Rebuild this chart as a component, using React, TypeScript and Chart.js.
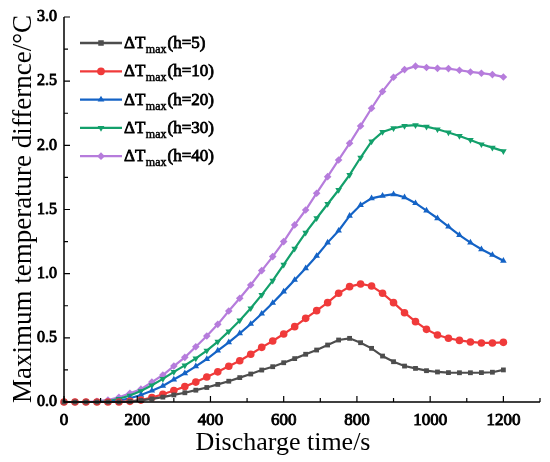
import { useEffect, useRef } from 'react';
import { Chart, ChartConfiguration, Plugin, registerables } from 'chart.js';
import { drawPoint } from 'chart.js/helpers';

const times = [
  0, 30, 60, 90, 120, 150, 180, 210, 240, 270, 300, 330, 360, 390, 420, 450, 480, 510, 540, 570,
  600, 630, 660, 690, 720, 750, 780, 810, 840, 870, 900, 930, 960, 990, 1020, 1050, 1080, 1110,
  1140, 1170, 1200,
];

const h5 = [
  0, 0, 0, 0, 0, 0, 0.004, 0.012, 0.024, 0.038, 0.055, 0.072, 0.092, 0.113, 0.137, 0.162, 0.19,
  0.218, 0.249, 0.275, 0.306, 0.338, 0.372, 0.405, 0.444, 0.483, 0.496, 0.462, 0.418, 0.358,
  0.314, 0.28, 0.262, 0.244, 0.234, 0.229, 0.228, 0.228, 0.229, 0.232, 0.25,
];

const h10 = [
  0, 0, 0, 0, 0, 0, 0.005, 0.015, 0.035, 0.06, 0.09, 0.12, 0.155, 0.195, 0.235, 0.278, 0.322,
  0.372, 0.426, 0.475, 0.53, 0.587, 0.652, 0.712, 0.774, 0.847, 0.899, 0.92, 0.904, 0.847, 0.774,
  0.696, 0.626, 0.566, 0.522, 0.497, 0.48, 0.468, 0.46, 0.46, 0.465,
];

const h20 = [
  0, 0, 0, 0, 0, 0.01, 0.029, 0.055, 0.088, 0.125, 0.175, 0.224, 0.278, 0.335, 0.4, 0.465, 0.535,
  0.608, 0.688, 0.772, 0.86, 0.951, 1.042, 1.138, 1.242, 1.335, 1.45, 1.535, 1.587, 1.606, 1.619,
  1.595, 1.549, 1.491, 1.432, 1.366, 1.3, 1.242, 1.19, 1.146, 1.1,
];

const h30 = [
  0, 0, 0, 0, 0.005, 0.025, 0.05, 0.085, 0.13, 0.18, 0.235, 0.285, 0.34, 0.4, 0.47, 0.55, 0.635,
  0.73, 0.835, 0.945, 1.07, 1.195, 1.32, 1.432, 1.543, 1.652, 1.77, 1.905, 2.03, 2.105, 2.133,
  2.151, 2.157, 2.146, 2.125, 2.1, 2.073, 2.042, 2.008, 1.982, 1.955,
];

const h40 = [
  0, 0, 0, 0.005, 0.016, 0.037, 0.068, 0.1, 0.155, 0.21, 0.28, 0.348, 0.43, 0.514, 0.605, 0.709,
  0.808, 0.912, 1.024, 1.133, 1.25, 1.38, 1.496, 1.627, 1.756, 1.886, 2.016, 2.151, 2.289, 2.42,
  2.531, 2.59, 2.617, 2.607, 2.6, 2.598, 2.585, 2.572, 2.562, 2.551, 2.533,
];

const heights = ['5', '10', '20', '30', '40'];
const colors = ['#4d4d4d', '#f03a3a', '#1463c6', '#13a06b', '#b67cdc'];
const styles = ['rect', 'circle', 'triangle', 'triangle', 'rectRot'];
const rotations = [0, 0, 0, 180, 0];

const serif = "'Liberation Serif', 'Times New Roman', serif";

// bold Times is drawn as regular serif with a thin stroke on top
function boldText(ctx: CanvasRenderingContext2D, s: string, x: number, y: number) {
  ctx.fillText(s, x, y);
  ctx.strokeText(s, x, y);
}

const axesPlugin: Plugin<'line'> = {
  id: 'originAxes',
  afterDraw(chart) {
    const { ctx, chartArea } = chart;
    const xs = chart.scales.x;
    const ys = chart.scales.y;
    ctx.save();
    ctx.strokeStyle = '#000';
    ctx.lineWidth = 1.5;
    ctx.beginPath();
    ctx.moveTo(chartArea.left, chartArea.top);
    ctx.lineTo(chartArea.left, chartArea.bottom);
    ctx.lineTo(chartArea.right, chartArea.bottom);
    ctx.stroke();

    // inward ticks
    ctx.lineWidth = 1.2;
    ctx.beginPath();
    for (let v = 0; v <= 1300; v += 100) {
      const px = xs.getPixelForValue(v);
      const len = v % 200 === 0 ? 6 : 4;
      ctx.moveTo(px, chartArea.bottom);
      ctx.lineTo(px, chartArea.bottom - len);
    }
    for (let v = 0; v <= 3; v += 0.25) {
      const py = ys.getPixelForValue(v);
      const len = Math.round(v * 100) % 50 === 0 ? 6 : 4;
      ctx.moveTo(chartArea.left, py);
      ctx.lineTo(chartArea.left + len, py);
    }
    ctx.stroke();

    // axis titles
    ctx.fillStyle = '#000';
    ctx.font = `26px ${serif}`;
    ctx.textAlign = 'center';
    ctx.textBaseline = 'alphabetic';
    ctx.fillText('Discharge time/s', 283, 450);
    ctx.save();
    ctx.translate(31, 209);
    ctx.rotate(-Math.PI / 2);
    ctx.font = `27px ${serif}`;
    ctx.fillText('Maximum temperature differnce/°C', 0, 0);
    ctx.restore();

    // legend
    for (let i = 0; i < heights.length; i++) {
      const y = 43 + i * 28.3;
      ctx.strokeStyle = colors[i];
      ctx.lineWidth = 2.3;
      ctx.beginPath();
      ctx.moveTo(80, y);
      ctx.lineTo(122, y);
      ctx.stroke();
      ctx.fillStyle = colors[i];
      drawPoint(ctx, { pointStyle: styles[i] as any, radius: 3.9, rotation: rotations[i] }, 101, y);
      ctx.fillStyle = '#000';
      ctx.strokeStyle = '#000';
      ctx.lineWidth = 0.8;
      ctx.textAlign = 'left';
      ctx.font = `17px ${serif}`;
      let x = 124;
      boldText(ctx, 'ΔT', x, y + 5);
      x += ctx.measureText('ΔT').width + 0.5;
      ctx.font = `12px ${serif}`;
      ctx.lineWidth = 0.5;
      boldText(ctx, 'max', x, y + 10);
      x += ctx.measureText('max').width + 1;
      ctx.font = `17px ${serif}`;
      ctx.lineWidth = 0.8;
      boldText(ctx, `(h=${heights[i]})`, x, y + 5);
    }
    ctx.restore();
  },
};

export default function App() {
  const canvasRef = useRef<HTMLCanvasElement>(null);
  const chartRef = useRef<Chart | null>(null);

  useEffect(() => {
    if (!canvasRef.current) return;
    Chart.register(...registerables);
    const ctx = canvasRef.current.getContext('2d');
    if (!ctx) return;

    const series = [h5, h10, h20, h30, h40];

    const config: ChartConfiguration<'line'> = {
      type: 'line',
      data: {
        datasets: series.map((vals, i) => ({
          label: `ΔTmax(h=${heights[i]})`,
          data: times.map((t, j) => ({ x: t, y: vals[j] })),
          borderColor: colors[i],
          backgroundColor: colors[i],
          borderWidth: 2.2,
          pointStyle: styles[i] as any,
          pointRotation: rotations[i],
          pointRadius: styles[i] === 'rect' ? 3.4 : 3.8,
          pointBorderWidth: 0,
          tension: 0,
          clip: false,
        })),
      },
      options: {
        responsive: true,
        maintainAspectRatio: false,
        animation: false,
        layout: { padding: { left: 0, top: 17, right: 10, bottom: 0 } },
        plugins: {
          legend: { display: false },
          tooltip: { enabled: false },
        },
        scales: {
          x: {
            type: 'linear',
            min: 0,
            max: 1300,
            grid: { display: false, drawTicks: false },
            border: { display: false },
            ticks: {
              stepSize: 200,
              includeBounds: false,
              padding: 8,
              color: '#000',
              textStrokeColor: '#000',
              textStrokeWidth: 0.9,
              font: { family: serif, size: 17 },
              maxRotation: 0,
              callback: (v) => String(v),
            },
            afterFit: (scale) => {
              scale.height = 60;
            },
          },
          y: {
            type: 'linear',
            min: 0,
            max: 3,
            grid: { display: false, drawTicks: false },
            border: { display: false },
            ticks: {
              stepSize: 0.5,
              padding: 7,
              color: '#000',
              textStrokeColor: '#000',
              textStrokeWidth: 0.9,
              font: { family: serif, size: 16 },
              callback: (v) => Number(v).toFixed(1),
            },
            afterFit: (scale) => {
              scale.width = 64;
            },
          },
        },
      },
      plugins: [axesPlugin],
    };

    if (chartRef.current) chartRef.current.destroy();
    chartRef.current = new Chart(ctx, config);

    return () => {
      if (chartRef.current) {
        chartRef.current.destroy();
        chartRef.current = null;
      }
    };
  }, []);

  return (
    <div style={{ position: 'fixed', left: 0, top: 0, width: 550, height: 462, background: '#fff' }}>
      <canvas ref={canvasRef} />
    </div>
  );
}
